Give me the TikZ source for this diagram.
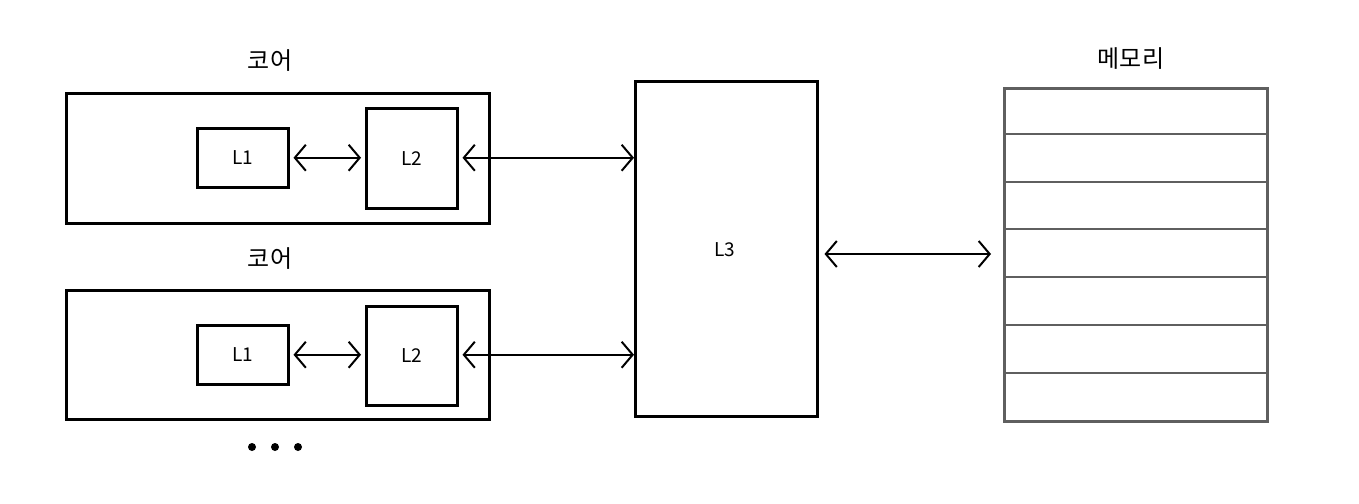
\documentclass[tikz,border=0pt]{standalone}
\usepackage{fontspec}
\setmainfont{Noto Sans CJK KR}
\usetikzlibrary{arrows.meta}
\definecolor{memgray}{RGB}{95,95,95}
\tikzset{
  x=1pt,y=-1pt,
  box/.style={draw=black,line width=2.5pt,fill=white},
  membox/.style={draw=memgray,line width=2.5pt},
  memline/.style={draw=memgray,line width=2pt},
  link/.style={line width=2pt,{Straight Barb[length=11pt,width=26pt,line width=2pt]}-{Straight Barb[length=11pt,width=26pt,line width=2pt]}},
  lbl/.style={font=\fontsize{24}{28}\selectfont},
  blbl/.style={font=\fontsize{19}{22}\selectfont},
}
\begin{document}
\begin{tikzpicture}
\useasboundingbox (0,0) rectangle (1359,503);
% core 1
\node[box,minimum width=423pt,minimum height=130pt,anchor=north west] (core1) at (65,92) {};
\node[box,minimum width=91pt,minimum height=59pt,anchor=north west,blbl] (l1a) at (196,127) {L1};
\node[box,minimum width=91pt,minimum height=100pt,anchor=north west,blbl] (l2a) at (365,107) {L2};
\node[lbl] (c1lbl) at (270,61) {코어};
% core 2
\node[box,minimum width=423pt,minimum height=129pt,anchor=north west] (core2) at (65,289) {};
\node[box,minimum width=91pt,minimum height=59pt,anchor=north west,blbl] (l1b) at (196,324) {L1};
\node[box,minimum width=91pt,minimum height=99pt,anchor=north west,blbl] (l2b) at (365,305) {L2};
\node[lbl] (c2lbl) at (270,259) {코어};
% dots
\fill (252,447) circle (4pt) coordinate (d1);
\fill (275,447) circle (4pt) coordinate (d2);
\fill (298,447) circle (4pt) coordinate (d3);
% L3
\node[box,minimum width=182pt,minimum height=335pt,anchor=north west] (l3) at (634,80) {};
\node[blbl] (l3lbl) at (725,250) {L3};
% memory
\node[membox,minimum width=263pt,minimum height=333pt,anchor=north west] (mem) at (1003,87) {};
\node[lbl] (memlbl) at (1131,59) {메모리};
\foreach \yy in {134,182,229,277,325,373} {
  \draw[memline] (mem.west |- 0,\yy) -- (mem.east |- 0,\yy);
}
% arrows
\draw[link] ([xshift=4pt]l1a.east) -- ([xshift=-4pt]l2a.west |- l1a.east);
\draw[link] ([xshift=4pt]l2a.east |- l1a.east) coordinate (a1) -- (l3.west |- a1);
\draw[link] ([xshift=4pt]l1b.east) -- ([xshift=-4pt]l2b.west |- l1b.east);
\draw[link] ([xshift=4pt]l2b.east |- l1b.east) coordinate (a2) -- (l3.west |- a2);
\draw[link] ([xshift=6pt]l3.east |- 0,254) coordinate (a3) -- ([xshift=-12pt]mem.west |- a3);
\end{tikzpicture}
\end{document}
